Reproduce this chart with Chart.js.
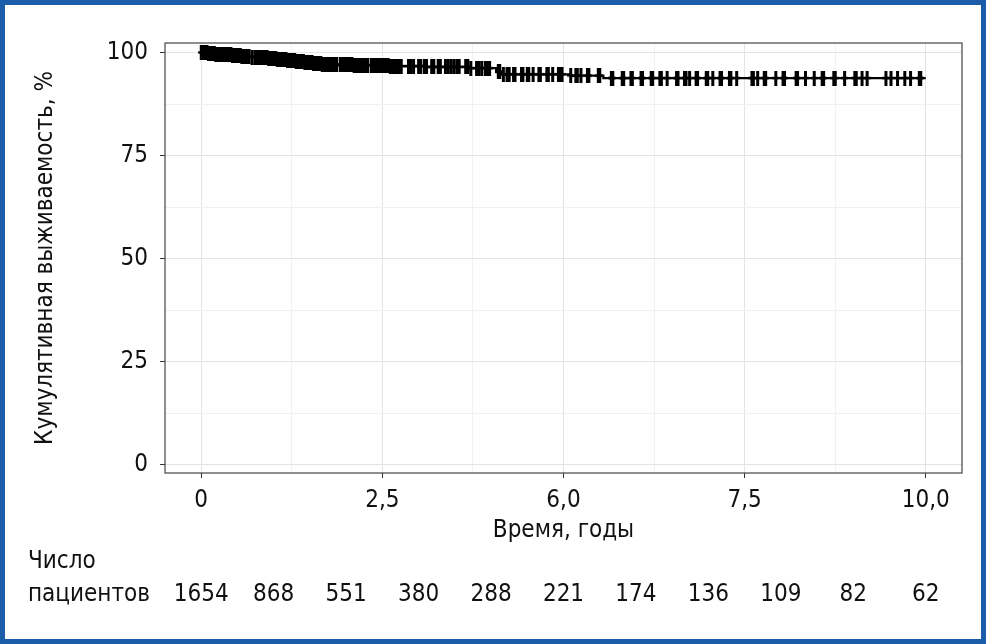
<!DOCTYPE html>
<html>
<head>
<meta charset="utf-8">
<script src="https://cdn.jsdelivr.net/npm/chart.js@4.4.1/dist/chart.umd.min.js"></script>
<style>
  html, body { margin: 0; padding: 0; background: #fff; }
  #frame { width: 986px; height: 644px; box-sizing: border-box; border: 5px solid #1b5da9; background: #fff; }
  canvas { display: block; }
</style>
</head>
<body>
<div id="frame"><canvas id="km" width="976" height="634"></canvas></div>
<script>
var FONT = "'Liberation Sans Narrow', 'DejaVu Sans Condensed', 'Roboto Condensed', sans-serif";

// Kaplan-Meier curve: step times (years) and survival (%)
var stepTimes = [0, 0.1, 0.2, 0.3, 0.42, 0.55, 0.68, 0.8, 0.93, 1.05, 1.18, 1.3, 1.42, 1.55, 1.66, 1.8, 2.1, 2.6, 3.1, 3.7, 4.07, 4.15, 5.1, 5.55, 10];
var stepSurv  = [100, 99.8, 99.6, 99.4, 99.2, 99.0, 98.9, 98.7, 98.5, 98.3, 98.1, 97.9, 97.6, 97.4, 97.2, 97.0, 96.9, 96.7, 96.5, 96.2, 95.3, 94.7, 94.4, 93.8, 93.8];

// censored observations (years)
var censorTimes = [
  0.00, 0.02, 0.03, 0.05, 0.06, 0.08, 0.10, 0.11, 0.13, 0.15, 0.16, 0.18, 0.20, 0.21, 0.23, 0.25,
  0.26, 0.28, 0.30, 0.31, 0.33, 0.35, 0.36, 0.38, 0.40, 0.41, 0.43, 0.45, 0.46, 0.48, 0.50, 0.52,
  0.54, 0.56, 0.58, 0.60, 0.63, 0.66, 0.70, 0.74, 0.77, 0.79, 0.81, 0.83, 0.85, 0.87, 0.89, 0.91,
  0.93, 0.95, 0.97, 0.99, 1.01, 1.03, 1.05, 1.07, 1.09, 1.11, 1.13, 1.15, 1.17, 1.19, 1.21, 1.23,
  1.25, 1.27, 1.29, 1.31, 1.33, 1.35, 1.37, 1.39, 1.41, 1.43, 1.45, 1.47, 1.49, 1.51, 1.53, 1.55,
  1.57, 1.59, 1.61, 1.63, 1.65, 1.67, 1.69, 1.71, 1.73, 1.75, 1.77, 1.79, 1.81, 1.83, 1.85, 1.87,
  1.92, 1.95, 1.99, 2.02, 2.05, 2.08, 2.11, 2.14, 2.17, 2.21, 2.24, 2.27, 2.30, 2.35, 2.38, 2.41,
  2.44, 2.47, 2.50, 2.52, 2.55, 2.58, 2.61, 2.64, 2.67, 2.70, 2.73, 2.76, 2.86, 2.89, 2.93, 3.00,
  3.03, 3.08, 3.11, 3.18, 3.21, 3.27, 3.30, 3.37, 3.41, 3.45, 3.49, 3.53, 3.56, 3.65, 3.68, 3.72,
  3.80, 3.83, 3.87, 3.92, 3.95, 3.98, 4.10, 4.12, 4.17, 4.22, 4.25, 4.31, 4.33, 4.42, 4.44, 4.50,
  4.52, 4.58, 4.66, 4.68, 4.77, 4.79, 4.85, 4.93, 4.95, 4.98, 5.10, 5.17, 5.19, 5.24, 5.33, 5.35,
  5.48, 5.50, 5.66, 5.68, 5.81, 5.83, 5.93, 5.95, 6.07, 6.09, 6.21, 6.23, 6.33, 6.35, 6.43, 6.56,
  6.58, 6.67, 6.69, 6.74, 6.83, 6.85, 6.97, 6.99, 7.06, 7.16, 7.18, 7.29, 7.31, 7.39, 7.60, 7.62,
  7.68, 7.77, 7.79, 7.93, 8.03, 8.05, 8.21, 8.23, 8.34, 8.46, 8.57, 8.59, 8.73, 8.75, 8.88, 9.02,
  9.04, 9.12, 9.19, 9.45, 9.52, 9.61, 9.71, 9.79, 9.91, 9.93
];

var xTickValues = [0, 1.25, 2.5, 3.75, 5, 6.25, 7.5, 8.75, 10];
var xTickLabels = ["0", "", "2,5", "", "6,0", "", "7,5", "", "10,0"];
var yTickValues = [0, 12.5, 25, 37.5, 50, 62.5, 75, 87.5, 100];
var yTickLabels = ["0", "", "25", "", "50", "", "75", "", "100"];

// number at risk
var riskYears  = [0, 1, 2, 3, 4, 5, 6, 7, 8, 9, 10];
var riskCounts = [1654, 868, 551, 380, 288, 221, 174, 136, 109, 82, 62];

function survivalAt(t) {
    var s = stepSurv[0];
    for (var i = 0; i < stepTimes.length; i++) {
        if (stepTimes[i] <= t) s = stepSurv[i];
    }
    return s;
}

function makeCensorMark() {
    var c = document.createElement('canvas');
    c.width = 7;
    c.height = 15;
    var g = c.getContext('2d');
    g.fillStyle = '#000';
    g.fillRect(2, 0, 3, 15);
    g.fillRect(0, 6.5, 7, 2);
    return c;
}

var kmData = stepTimes.map(function(t, i) { return {x: t, y: stepSurv[i]}; });
var censorData = censorTimes.map(function(t) { return {x: t, y: survivalAt(t)}; });

var framePlugin = {
    id: 'frame',
    afterDatasetsDraw: function(chart) {
        var a = chart.chartArea, ctx = chart.ctx;
        ctx.save();
        ctx.strokeStyle = '#444';
        ctx.lineWidth = 1.2;
        ctx.strokeRect(a.left, a.top, a.right - a.left, a.bottom - a.top);
        ctx.restore();
    }
};

var riskTablePlugin = {
    id: 'riskTable',
    afterDraw: function(chart) {
        var ctx = chart.ctx, x = chart.scales.x;
        ctx.save();
        ctx.fillStyle = '#111';
        ctx.font = '24px ' + FONT;
        ctx.textBaseline = 'alphabetic';
        ctx.textAlign = 'left';
        ctx.fillText('Число', 23, 563);
        ctx.fillText('пациентов', 23, 596);
        ctx.textAlign = 'center';
        riskYears.forEach(function(yr, i) {
            ctx.fillText(String(riskCounts[i]), x.getPixelForValue(yr), 596);
        });
        ctx.restore();
    }
};

function gridColor(c) { return c.index % 2 === 0 ? '#e4e4e4' : '#f1f1f1'; }
function tickMarkColor(c) { return c.index % 2 === 0 ? '#333' : 'rgba(0,0,0,0)'; }

new Chart(document.getElementById('km'), {
    type: 'scatter',
    data: {
        datasets: [{
            label: 'censored',
            data: censorData,
            pointStyle: makeCensorMark(),
            pointRadius: 7,
            showLine: false,
            order: 0
        }, {
            label: 'KM',
            data: kmData,
            showLine: true,
            stepped: true,
            borderColor: '#000',
            borderWidth: 2.2,
            pointRadius: 0,
            order: 1
        }]
    },
    options: {
        responsive: false,
        animation: false,
        devicePixelRatio: 1,
        layout: { padding: { left: 0, top: 38, right: 19, bottom: 86 } },
        plugins: { legend: { display: false }, tooltip: { enabled: false } },
        scales: {
            x: {
                type: 'linear',
                min: -0.5,
                max: 10.5,
                afterFit: function(s) { s.height = 80; },
                afterBuildTicks: function(s) { s.ticks = xTickValues.map(function(v) { return {value: v}; }); },
                ticks: {
                    callback: function(v, i) { return xTickLabels[i]; },
                    font: { family: FONT, size: 24 },
                    color: '#111',
                    padding: 8,
                    maxRotation: 0,
                    autoSkip: false
                },
                grid: { color: gridColor, tickColor: tickMarkColor, tickLength: 5, lineWidth: 1 },
                border: { display: false },
                title: {
                    display: true,
                    text: 'Время, годы',
                    font: { family: FONT, size: 24 },
                    color: '#111',
                    padding: { top: 0, bottom: 8 }
                }
            },
            y: {
                type: 'linear',
                min: -2,
                max: 102.3,
                afterFit: function(s) { s.width = 160; },
                afterBuildTicks: function(s) { s.ticks = yTickValues.map(function(v) { return {value: v}; }); },
                ticks: {
                    callback: function(v, i) { return yTickLabels[i]; },
                    font: { family: FONT, size: 24 },
                    color: '#111',
                    padding: 12,
                    autoSkip: false
                },
                grid: { color: gridColor, tickColor: tickMarkColor, tickLength: 5, lineWidth: 1 },
                border: { display: false },
                title: {
                    display: true,
                    text: 'Кумулятивная выживаемость, %',
                    font: { family: FONT, size: 24 },
                    color: '#111',
                    padding: { top: 26, bottom: 0 }
                }
            }
        }
    },
    plugins: [framePlugin, riskTablePlugin]
});
</script>
</body>
</html>
